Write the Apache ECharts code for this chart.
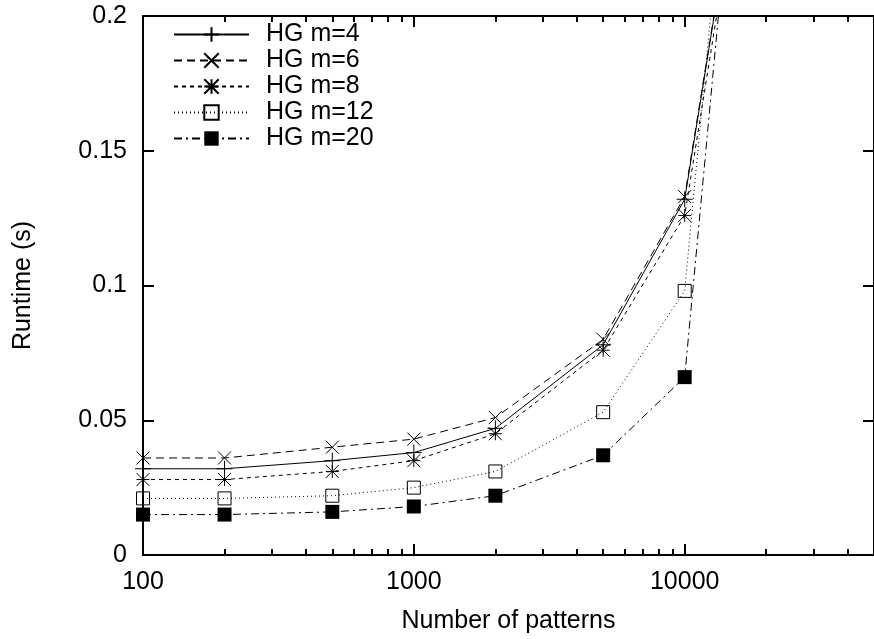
<!DOCTYPE html>
<html>
<head>
<meta charset="utf-8">
<script src="https://cdn.jsdelivr.net/npm/echarts@6/dist/echarts.min.js"></script>
<style>html,body{margin:0;padding:0;background:#fff}#c{width:874px;height:639px}</style>
</head>
<body>
<div id="c"></div>
<script>
const xValues = [100, 200, 500, 1000, 2000, 5000, 10000, 20000];
const m4  = [0.032, 0.032, 0.035, 0.038, 0.047, 0.078, 0.132, 0.32];
const m6  = [0.036, 0.036, 0.040, 0.043, 0.051, 0.080, 0.133, 0.32];
const m8  = [0.028, 0.028, 0.031, 0.035, 0.045, 0.076, 0.126, 0.315];
const m12 = [0.021, 0.021, 0.022, 0.025, 0.031, 0.053, 0.098, 0.42];
const m20 = [0.015, 0.015, 0.016, 0.018, 0.022, 0.037, 0.066, 0.39];
const seriesNames = ['HG m=4', 'HG m=6', 'HG m=8', 'HG m=12', 'HG m=20'];
const xMajorTicks = [100, 1000, 10000];
const xMinorTicks = [200,300,400,500,600,700,800,900,2000,3000,4000,5000,6000,7000,8000,9000,20000,30000,40000];
const yTicks = [0, 0.05, 0.1, 0.15, 0.2];

const FONT = 'Liberation Sans, Arial, Helvetica, sans-serif';
const FS = 25;

function pairs(vals){ return xValues.map((x,i)=>[x, vals[i]]); }

function xAxisDef(pos, major, showLabel, extra){
  return Object.assign({
    type: 'log', logBase: 10, min: 100, max: 50000, position: pos,
    axisLine: {show: major, lineStyle: {color: '#000', width: 2}},
    axisTick: {show: true, inside: true, length: major ? 11 : 6, lineStyle: {color: '#000', width: 2},
      customValues: major ? xMajorTicks : xMinorTicks},
    axisLabel: {show: showLabel, customValues: xMajorTicks, color: '#000', fontSize: FS, fontFamily: FONT, margin: 15,
      formatter: v => String(Math.round(v))},
    splitLine: {show: false}, minorTick: {show: false}, minorSplitLine: {show: false}
  }, extra || {});
}
function yAxisDef(pos, showLabel, extra){
  return Object.assign({
    type: 'value', min: 0, max: 0.2, interval: 0.05, position: pos,
    axisLine: {show: true, lineStyle: {color: '#000', width: 2}},
    axisTick: {show: true, inside: true, length: 11, lineStyle: {color: '#000', width: 2}, customValues: yTicks},
    axisLabel: {show: showLabel, customValues: yTicks, color: '#000', fontSize: FS, fontFamily: FONT, margin: 16},
    splitLine: {show: false}
  }, extra || {});
}

const strokeSym = {color: 'none', borderColor: '#000', borderWidth: 1};
function mk(name, data, symbol, size, lineType, itemStyle){
  return {
    name, type: 'line', data: pairs(data), xAxisIndex: 0, yAxisIndex: 0,
    symbol, symbolSize: size, showSymbol: true, clip: true,
    lineStyle: {color: '#000', width: 1, type: lineType},
    itemStyle, emphasis: {disabled: true}, z: 3
  };
}

const chart = echarts.init(document.getElementById('c'), null, {renderer: 'canvas'});
chart.setOption({
  animation: false,
  backgroundColor: '#fff',
  grid: {left: 143, right: -8, top: 16, bottom: 83, containLabel: false},
  legend: {
    orient: 'vertical', left: 173, top: 22, padding: 0, itemWidth: 75, itemHeight: 18, itemGap: 1,
    data: seriesNames,
    textStyle: {color: '#000', fontSize: FS, lineHeight: 24, fontFamily: FONT, padding: [0,0,0,12]},
    selectedMode: false
  },
  xAxis: [
    xAxisDef('bottom', true, true, {name: 'Number of patterns', nameLocation: 'middle', nameGap: 54,
      nameTextStyle: {color: '#000', fontSize: FS, fontFamily: FONT}}),
    xAxisDef('bottom', false, false),
    xAxisDef('top', true, false),
    xAxisDef('top', false, false)
  ],
  yAxis: [
    yAxisDef('left', true, {name: 'Runtime (s)', nameLocation: 'middle', nameGap: 107,
      nameTextStyle: {color: '#000', fontSize: FS, fontFamily: FONT}}),
    yAxisDef('right', false)
  ],
  series: [
    mk(seriesNames[0], m4, 'path://M0,50L100,50M50,0L50,100', 16, 'solid', strokeSym),
    mk(seriesNames[1], m6, 'path://M0,0L100,100M100,0L0,100', 13, [8,5], strokeSym),
    mk(seriesNames[2], m8, 'path://M0,50L100,50M50,0L50,100M0,0L100,100M100,0L0,100', 13, [4,4], strokeSym),
    mk(seriesNames[3], m12, 'path://M0,0L100,0L100,100L0,100Z', 13, [1,3], strokeSym),
    mk(seriesNames[4], m20, 'rect', 14, [8,4,2,4], {color: '#000', borderWidth: 0})
  ]
});
</script>
</body>
</html>
